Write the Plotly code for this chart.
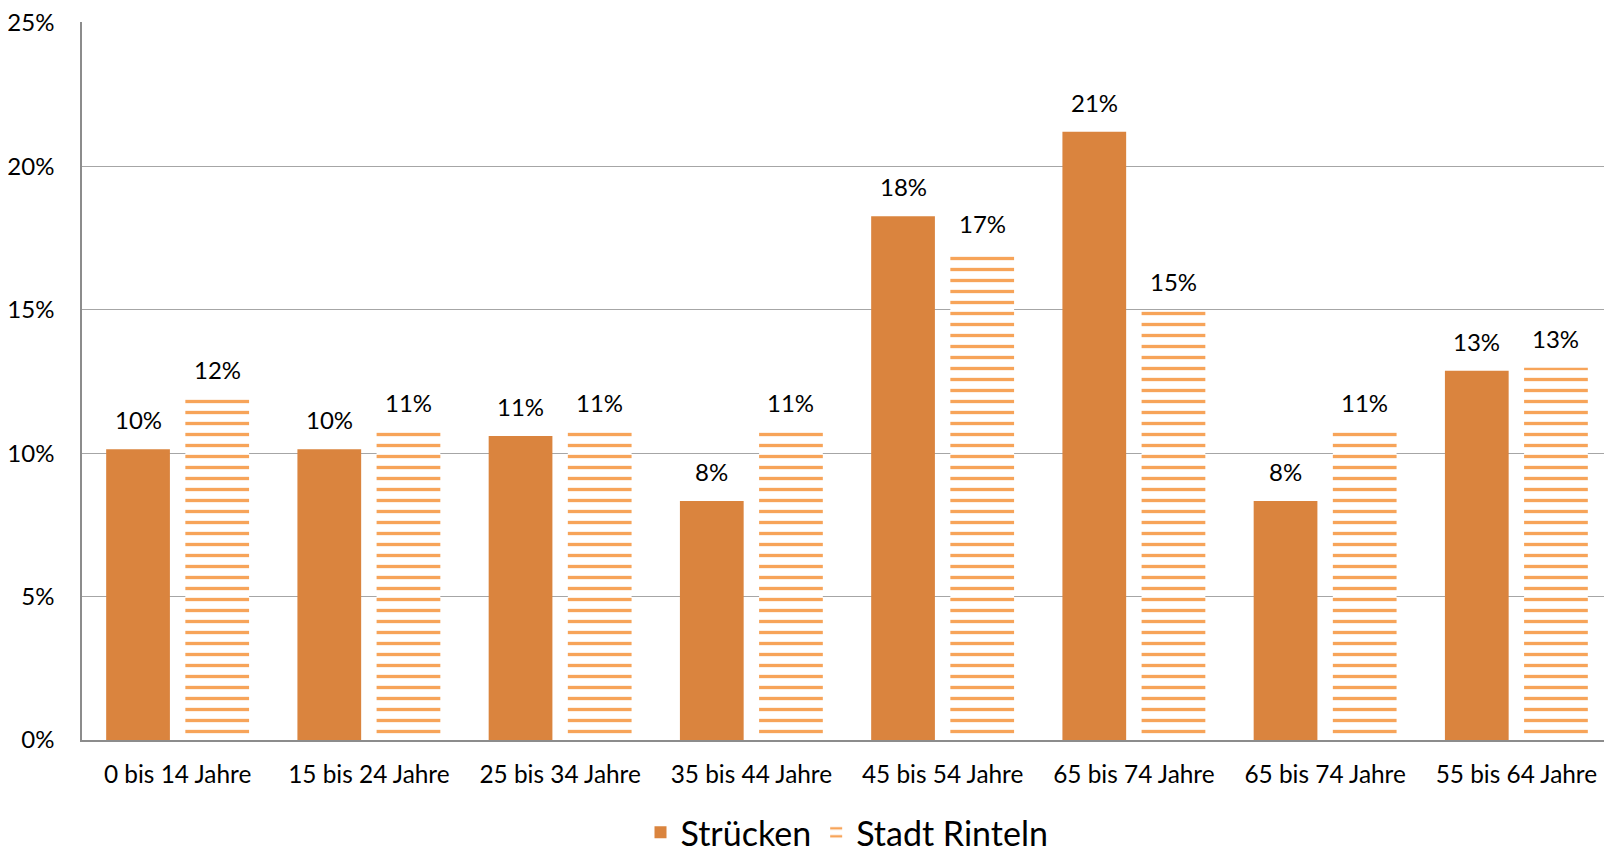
import plotly.graph_objects as go

categories = ["0 bis 14 Jahre", "15 bis 24 Jahre", "25 bis 34 Jahre", "35 bis 44 Jahre",
              "45 bis 54 Jahre", "65 bis 74 Jahre", "65 bis 74 Jahre", "55 bis 64 Jahre"]
struecken = [10.14, 10.14, 10.6, 8.33, 18.26, 21.2, 8.33, 12.87]
rinteln = [11.9, 10.74, 10.74, 10.74, 16.99, 14.96, 10.74, 12.98]
y_ticks = [0, 5, 10, 15, 20, 25]
y_tick_labels = ["0%", "5%", "10%", "15%", "20%", "25%"]

positions = list(range(len(categories)))
font_family = "Lato, Noto Sans, sans-serif"

bargap = 0.172
bargroupgap = 0.195

fig = go.Figure()
fig.add_trace(go.Bar(
    x=positions, y=struecken, name="Strücken",
    marker=dict(color="#DA843E"),
    cliponaxis=False,
))
fig.add_trace(go.Bar(
    x=positions, y=rinteln, name="Stadt Rinteln",
    marker=dict(color="#FFFFFF",
                pattern=dict(shape="-", fgcolor="#F7A459", bgcolor="#FFFFFF",
                             size=11, solidity=0.3, fillmode="replace")),
    cliponaxis=False,
))

# value labels above bars (offset by half a slot within each group)
slot = (1 - bargap) / 2
for series, shift in ((struecken, -slot / 2), (rinteln, slot / 2)):
    for pos, val in zip(positions, series):
        fig.add_annotation(
            x=pos + shift, y=val, xref="x", yref="y",
            text=f"{val:.0f}%", showarrow=False,
            yanchor="bottom", yshift=13,
            font=dict(size=24, color="#000000", family=font_family),
        )

fig.update_layout(
    template="none",
    width=1604, height=845,
    margin=dict(l=74, r=0, t=14, b=113, autoexpand=False),
    paper_bgcolor="white", plot_bgcolor="white",
    barmode="group", bargap=bargap, bargroupgap=bargroupgap,
    font=dict(family=font_family, color="#000000"),
    showlegend=True,
    legend=dict(orientation="h", x=0.5, xanchor="center",
                yref="container", y=0.024, yanchor="middle",
                font=dict(size=34), traceorder="normal"),
    xaxis=dict(
        tickmode="array", tickvals=positions, ticktext=categories,
        range=[-0.5, len(categories) - 0.5], automargin=False,
        tickfont=dict(size=24.4), showgrid=False,
        showline=True, linecolor="#8C8C8C", linewidth=1.5, ticks="",
        ticklabelstandoff=12, zeroline=False,
    ),
    yaxis=dict(
        range=[0, 25.03], tickmode="array", tickvals=y_ticks, ticktext=y_tick_labels,
        automargin=False, ticklabeloverflow="allow",
        tickfont=dict(size=24), showgrid=True, gridcolor="#A6A6A6", gridwidth=1,
        showline=True, linecolor="#8C8C8C", linewidth=1.5, ticks="",
        zeroline=False, ticklabelstandoff=21,
    ),
)

fig.write_html("out.html")
